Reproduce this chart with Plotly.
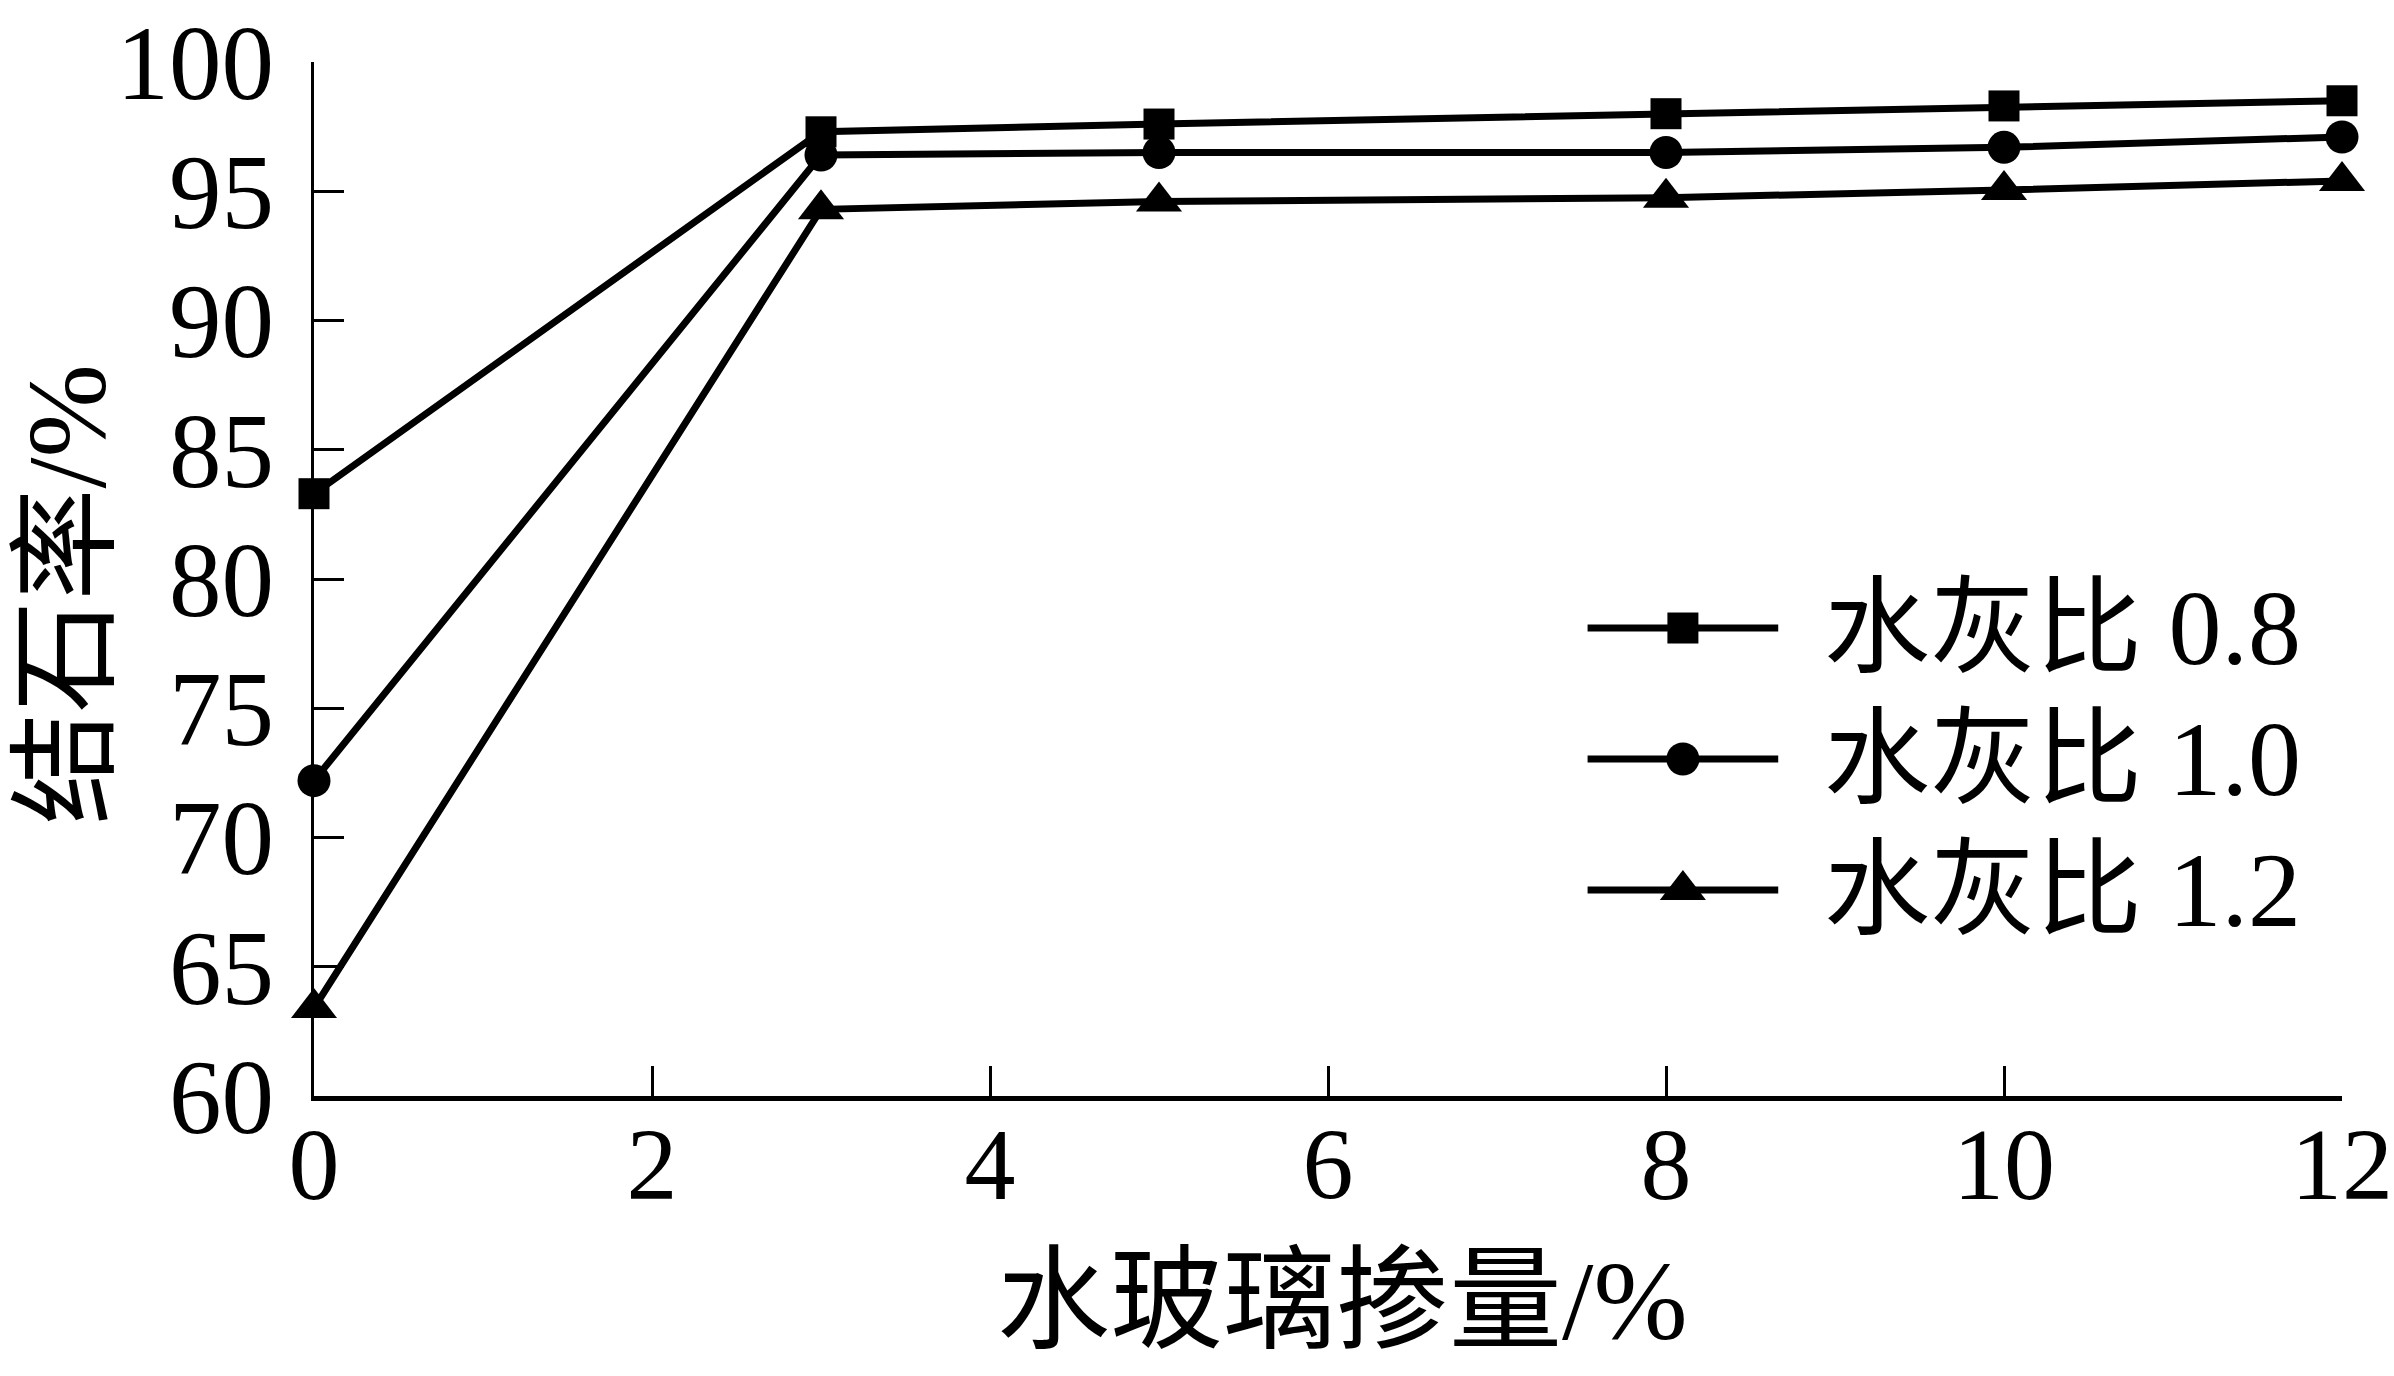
import plotly.graph_objects as go

# ---- data ----
glass_content = [0, 3, 5, 8, 10, 12]
rate_wc08 = [83.3, 97.3, 97.6, 98.0, 98.3, 98.5]
rate_wc10 = [72.2, 96.4, 96.5, 96.5, 96.7, 97.1]
rate_wc12 = [63.4, 94.3, 94.6, 94.75, 95.05, 95.4]
series_names = ["水灰比 0.8", "水灰比 1.0", "水灰比 1.2"]
x_ticks = [0, 2, 4, 6, 8, 10, 12]
y_ticks = [60, 65, 70, 75, 80, 85, 90, 95, 100]

W, H = 2394, 1376
L, R, T, B = 314, 52, 62, 280
FONT = "Liberation Serif, Times New Roman, Noto Sans CJK SC"
symbols = ["square", "circle", "triangle-up"]
msizes = [31, 33, 40]
series = [rate_wc08, rate_wc10, rate_wc12]
LW = 7

fig = go.Figure()
for name, ys, sym, ms in zip(series_names, series, symbols, msizes):
    fig.add_trace(go.Scatter(
        x=glass_content, y=ys, mode="lines+markers", name=name,
        line=dict(color="black", width=LW),
        marker=dict(symbol=sym, size=ms, color="black"),
        cliponaxis=False, showlegend=False))

# custom legend (drawn on an overlay axis spanning the plot area, 0..1)
leg_x0, leg_x1 = 0.628, 0.722
leg_ys = [0.4526, 0.3259, 0.1992]
for name, sym, ms, ly in zip(series_names, symbols, msizes, leg_ys):
    fig.add_trace(go.Scatter(
        x=[leg_x0, leg_x1], y=[ly, ly],
        xaxis="x2", yaxis="y2", mode="lines",
        line=dict(color="black", width=LW),
        cliponaxis=False, showlegend=False, hoverinfo="skip"))
    fig.add_trace(go.Scatter(
        x=[(leg_x0 + leg_x1) / 2], y=[ly],
        xaxis="x2", yaxis="y2", mode="markers",
        marker=dict(symbol=sym, size=ms, color="black"),
        cliponaxis=False, showlegend=False, hoverinfo="skip"))
    fig.add_annotation(x=0.7436, y=ly, xref="paper", yref="paper",
                       text=name, showarrow=False, xanchor="left", yanchor="middle",
                       font=dict(family=FONT, size=106, color="black"))

fig.add_annotation(x=0.507, y=-0.198, xref="paper", yref="paper",
                   text="水玻璃掺量/%", showarrow=False, xanchor="center", yanchor="middle",
                   font=dict(family=FONT, size=113, color="black"))
fig.add_annotation(x=-0.122, y=0.4845, xref="paper", yref="paper",
                   text="结石率/%", showarrow=False, xanchor="center", yanchor="middle",
                   textangle=-90,
                   font=dict(family=FONT, size=112, color="black"))

fig.update_layout(
    width=W, height=H,
    margin=dict(l=L, r=R, t=T, b=B, autoexpand=False),
    paper_bgcolor="white", plot_bgcolor="white",
    font=dict(family=FONT, color="black"),
    xaxis=dict(range=[0, 12], tickvals=x_ticks, ticks="inside", ticklen=30,
               tickwidth=3, tickcolor="black", showline=True, linecolor="black",
               linewidth=5, showgrid=False, zeroline=False, automargin=False,
               tickfont=dict(family=FONT, size=102, color="black"),
               ticklabelstandoff=-24, ticklabeloverflow="allow"),
    yaxis=dict(range=[60, 100], tickvals=y_ticks, ticks="inside", ticklen=30,
               tickwidth=3, tickcolor="black", showline=True, linecolor="black",
               linewidth=3, showgrid=False, zeroline=False, automargin=False,
               tickfont=dict(family=FONT, size=105, color="black"),
               ticklabelstandoff=16, ticklabeloverflow="allow"),
    xaxis2=dict(range=[0, 1], overlaying="x", visible=False, fixedrange=True),
    yaxis2=dict(range=[0, 1], overlaying="y", visible=False, fixedrange=True),
)

fig.write_html("out.html", config={"displayModeBar": False},
               post_script="document.body.style.margin='0';document.body.style.overflow='hidden';")
